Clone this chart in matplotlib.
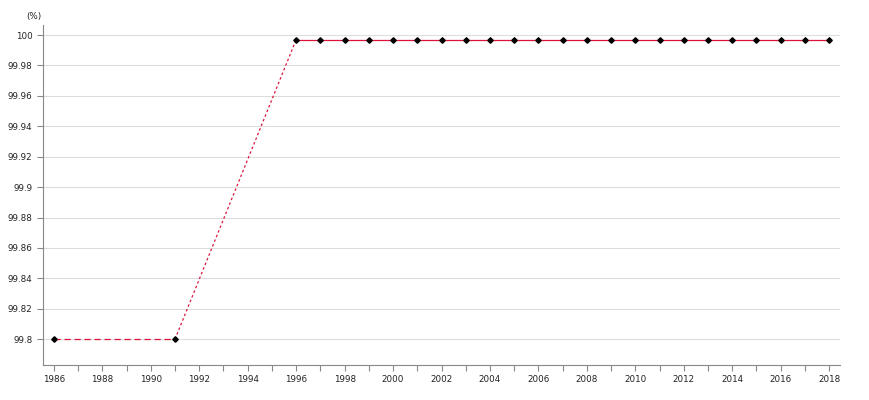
import matplotlib.pyplot as plt
import numpy as np

years = [1986, 1991] + list(range(1996, 2019))
values = [99.8, 99.8] + [99.997] * 23

line_color = '#dc143c'
axis_color = '#888888'

fig = plt.figure(figsize=(8.7, 4), dpi=100)
ax = fig.add_axes([43 / 870, 35 / 400, 797 / 870, 340 / 400])

# dashed where years are missing, solid where consecutive
for i in range(len(years) - 1):
    style = '-' if years[i + 1] - years[i] == 1 else (0, (5, 3))
    if years[i + 1] - years[i] > 1 and i == 1:
        style = (0, (2, 2))
    ax.plot(years[i:i + 2], values[i:i + 2], color=line_color, lw=0.9,
            linestyle=style, zorder=2)
ax.plot(years, values, linestyle='none', marker='D', markersize=2.8,
        color='black', zorder=3)

ax.set_xlim(1985.55, 2018.45)
ax.set_ylim(99.783, 100.0066)
ax.set_xticks(range(1986, 2019, 2))
ax.set_xticks(range(1986, 2019), minor=True)
ax.set_yticks(np.arange(99.8, 100.001, 0.02))
ax.set_yticklabels(['99.8', '99.82', '99.84', '99.86', '99.88', '99.9',
                    '99.92', '99.94', '99.96', '99.98', '100'])

ax.grid(axis='y', color='#dddddd', lw=0.8, zorder=0)
ax.set_axisbelow(True)
for s in ['top', 'right']:
    ax.spines[s].set_visible(False)
for s in ['left', 'bottom']:
    ax.spines[s].set_color(axis_color)
ax.tick_params(axis='both', labelsize=6.3, colors=axis_color, labelcolor='#222222',
               length=4, width=0.8)
ax.tick_params(axis='x', which='minor', length=4, width=0.8, colors=axis_color)

fig.text(26 / 870, 1 - 17 / 400, '(%)', fontsize=6.3, color='#222222', va='center')

fig.savefig('out.png', dpi=100)
